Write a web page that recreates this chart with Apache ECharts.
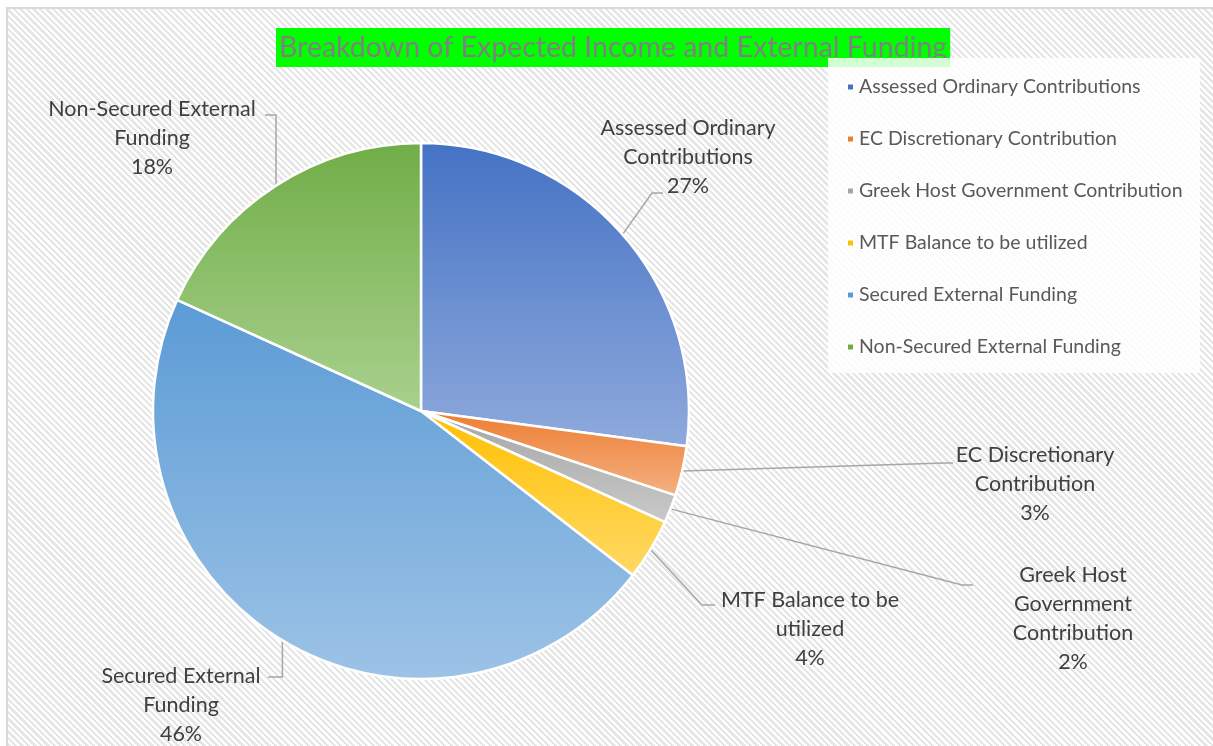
<!DOCTYPE html>
<html>
<head>
<meta charset="utf-8">
<script src="https://cdn.jsdelivr.net/npm/echarts@6/dist/echarts.min.js"></script>
<style>
  html, body { margin: 0; padding: 0; width: 1213px; height: 746px; overflow: hidden; background: #fff; }
  #frame {
    position: absolute; left: 6px; top: 7px; width: 1220px; height: 760px;
    border-left: 2px solid #d9d9d9; border-top: 2px solid #d9d9d9;
    background: repeating-linear-gradient(45deg, #ffffff 0px, #ffffff 2.3px, #e6e6e6 2.3px, #e6e6e6 4.6px);
  }
  #main { position: absolute; left: 0; top: 0; width: 1213px; height: 746px; }
</style>
</head>
<body>
<div id="frame"></div>
<div id="main"></div>
<script>
var titleText = 'Breakdown of Expected Income and External Funding';
var names = [
    'Assessed Ordinary Contributions',
    'EC Discretionary Contribution',
    'Greek Host Government Contribution',
    'MTF Balance to be utilized',
    'Secured External Funding',
    'Non-Secured External Funding'
];
// share of total
var shares = [27.1, 3.0, 1.7, 3.7, 46.3, 18.2];
// label text as wrapped on the chart
var labelNames = [
    'Assessed Ordinary\nContributions',
    'EC Discretionary\nContribution',
    'Greek Host\nGovernment\nContribution',
    'MTF Balance to be\nutilized',
    'Secured External\nFunding',
    'Non-Secured External\nFunding'
];

var darkColors = ['#4472c4', '#ed7d31', '#a5a5a5', '#ffc000', '#5b9bd5', '#70ad47'];
var lightColors = ['#8faadc', '#f4b183', '#c9c9c9', '#ffd966', '#9dc3e6', '#a9d18e'];
var legendColors = ['#4472c4', '#ed7d31', '#a5a5a5', '#ffc000', '#5b9bd5', '#70ad47'];

// where each data label sits, and the elbow / end of its leader line
var labelPlaces = [
    { x: 688, y: 114, elbow: [652, 193], end: [663, 193] },
    { x: 1035, y: 441, elbow: [945, 463], end: [953, 463] },
    { x: 1073, y: 561, elbow: [962, 585], end: [973, 585] },
    { x: 810, y: 586, elbow: [702, 605], end: [715, 605] },
    { x: 181, y: 662, elbow: [null, 677], end: [268, 677] },
    { x: 152, y: 95, elbow: [null, 115], end: [265, 115] }
];

var FONT = 'Lato';

window.onload = function () {
    var chart = echarts.init(document.getElementById('main'), null, { renderer: 'canvas' });

    var pieData = [];
    for (var i = 0; i < names.length; i++) {
        pieData.push({
            name: names[i],
            value: shares[i],
            itemStyle: {
                color: new echarts.graphic.LinearGradient(0, 0, 0, 1, [
                    { offset: 0, color: darkColors[i] },
                    { offset: 1, color: lightColors[i] }
                ])
            }
        });
    }

    var legendData = [];
    for (var i = 0; i < names.length; i++) {
        legendData.push({ name: names[i], itemStyle: { color: legendColors[i] } });
    }

    var option = {
        backgroundColor: 'transparent',
        animation: false,
        title: {
            text: titleText,
            left: 276,
            top: 28,
            padding: [4, 3, 4, 3],
            backgroundColor: '#00ff00',
            z: 5,
            textStyle: {
                color: '#808080',
                fontFamily: FONT,
                fontSize: 28.5,
                fontWeight: 'normal',
                lineHeight: 31
            }
        },
        graphic: [{
            type: 'rect',
            z: 8,
            shape: { x: 828, y: 58, width: 372, height: 315 },
            style: { fill: 'rgba(255,255,255,0.82)' }
        }],
        legend: {
            orient: 'vertical',
            left: 846,
            top: 76,
            padding: 0,
            z: 9,
            icon: 'rect',
            itemWidth: 7,
            itemHeight: 7,
            itemGap: 30,
            selectedMode: false,
            data: legendData,
            textStyle: {
                color: '#595959',
                fontFamily: FONT,
                fontSize: 19.5,
                lineHeight: 22
            }
        },
        series: [{
            type: 'pie',
            center: [421, 411],
            radius: 268,
            startAngle: 90,
            clockwise: true,
            z: 2,
            data: pieData,
            itemStyle: { borderColor: '#ffffff', borderWidth: 2.5 },
            label: {
                show: true,
                position: 'outside',
                color: '#404040',
                fontFamily: FONT,
                fontSize: 21.5,
                lineHeight: 29,
                align: 'center',
                formatter: function (p) {
                    return labelNames[p.dataIndex] + '\n' + Math.round(p.percent) + '%';
                }
            },
            labelLine: {
                show: true,
                length: 20,
                length2: 10,
                lineStyle: { color: '#a6a6a6', width: 1.5 }
            },
            labelLayout: function (p) {
                var place = labelPlaces[p.dataIndex];
                var start = p.labelLinePoints ? p.labelLinePoints[0] : [421, 411];
                var elbowX = place.elbow[0] == null ? start[0] : place.elbow[0];
                return {
                    x: place.x,
                    y: place.y,
                    align: 'center',
                    verticalAlign: 'top',
                    labelLinePoints: [
                        [start[0], start[1]],
                        [elbowX, place.elbow[1]],
                        [place.end[0], place.end[1]]
                    ]
                };
            }
        }]
    };
    chart.setOption(option);
};
</script>
</body>
</html>
